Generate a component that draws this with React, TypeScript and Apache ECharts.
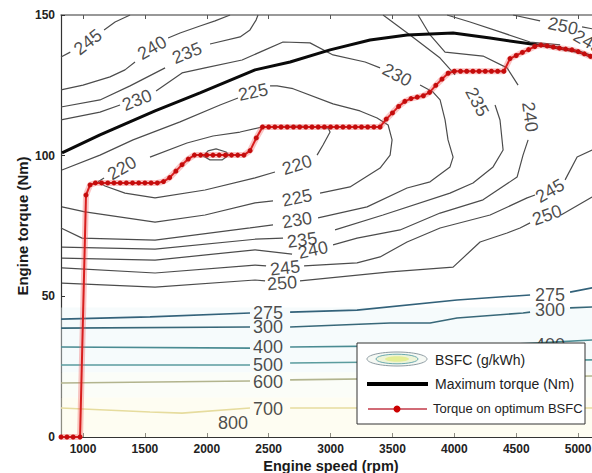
import React, { useEffect, useRef } from "react";
import * as echarts from "echarts";

// ---------- data (engine speed rpm, torque Nm) ----------
const speedTicks = [1000, 1500, 2000, 2500, 3000, 3500, 4000, 4500, 5000];
const torqueTicks = [0, 50, 100, 150];

const maxTorque = [
  [830, 101], [1137, 107.4], [1582, 115.9], [1945, 122.3], [2390, 130.5], [2673, 133.3],
  [2996, 137.6], [3319, 141.1], [3618, 142.9], [3990, 143.6], [4289, 141.8], [4668, 139.4],
  [4750, 139], [5000, 137], [5185, 134],
];

const optimumBsfc = [
  [822, 0], [870, 0], [920, 0], [976, 0], [1024, 86], [1057, 89.6], [1100, 90.3], [1150, 90.3],
  [1200, 90.3], [1250, 90.3], [1300, 90.3], [1350, 90.3], [1400, 90.3], [1450, 90.3], [1500, 90.3],
  [1550, 90.3], [1600, 90.3], [1650, 90.8], [1700, 92.2], [1750, 94.5], [1800, 96.8], [1850, 98.8],
  [1900, 100.2], [1950, 100.2], [2000, 100.2], [2050, 100.2], [2100, 100.2], [2150, 100.2],
  [2200, 100.2], [2250, 100.2], [2300, 100.2], [2350, 101.8], [2400, 106.3], [2450, 110.2],
  [2500, 110.2], [2550, 110.2], [2600, 110.2], [2650, 110.2], [2700, 110.2], [2750, 110.2],
  [2800, 110.2], [2850, 110.2], [2900, 110.2], [2950, 110.2], [3000, 110.2], [3050, 110.2],
  [3100, 110.2], [3150, 110.2], [3200, 110.2], [3250, 110.2], [3300, 110.2], [3350, 110.2],
  [3400, 110.2], [3450, 113], [3500, 115.2], [3550, 117.5], [3600, 119.3], [3650, 120.3],
  [3700, 120.8], [3750, 121.3], [3800, 122.5], [3850, 125], [3900, 127.2], [3950, 129.3],
  [4000, 130], [4050, 130], [4100, 130], [4150, 130], [4200, 130], [4250, 130], [4300, 130],
  [4350, 130], [4400, 130], [4450, 134.5], [4500, 135.6], [4550, 136.7], [4600, 137.7],
  [4650, 138.8], [4700, 139.3], [4750, 139], [4800, 138.6], [4850, 138.2], [4900, 137.9],
  [4950, 137.6], [5000, 137], [5050, 136.2], [5100, 135.3], [5150, 134.5],
];

// BSFC contour lines (g/kWh); null = break where the inline label sits
const c215 = [[1970, 99.9], [2010, 101.7], [2075, 102.4], [2156, 101.3], [2180, 100.2], [2123, 98.5], [2026, 98.5], [1970, 99.9]];
const c220 = [
  [1121, 90.7], [1178, 89.2], [1339, 86.7], [1582, 85], [1986, 87.8], [2390, 92.1], [2551, 94.2], null,
  [2891, 100.2], [2939, 103.8], [2996, 108.4], [2980, 109.8], [2753, 110.5], [2446, 110.2],
  [2269, 108.4], [2050, 107], [1840, 104.5], [1541, 99.5], null, [1170, 92.1], [1121, 90.7],
];
const c225 = [
  [830, 94.9], [1137, 100.2], [1404, 105.6], [1784, 112], [2107, 118], [2252, 120.5], null,
  [2511, 124.8], [2568, 124.8], [2697, 123.8], [3020, 118.4], [3238, 115.9], [3376, 113.4],
  [3465, 110.9], [3497, 105.6], [3481, 100.2], [3400, 95.6], [3157, 88.9], [2915, 86.7], null,
  [2535, 83.9], [2390, 83.2], [1986, 78.9], [1582, 76.4], [1016, 80], [830, 81.8],
];
const c230 = [
  [822, 112.7], [1137, 115.5], [1299, 118], null, [1590, 123], [1800, 129.4], [1986, 131.2],
  [2285, 134], [2471, 137.6], [2616, 140.4], [2834, 140.1], [3020, 135.8], [3279, 133.3],
  [3400, 131.2], null, [3723, 125.1], [3828, 122.6], [3885, 119.8], [3925, 112.7], [3949, 105.6],
  [3990, 99.5], [3965, 96], [3804, 90.7], [3618, 88.5], [3295, 81.8], [2899, 77.9], null,
  [2535, 75.4], [2349, 74.3], [1582, 70], [992, 70.7], [822, 74.3],
];
const c235Left = [
  [822, 117.3], [1137, 119.8], [1380, 124.8], [1663, 131.2], null, [2026, 139.7], [2269, 142.2],
  [2349, 144.7], [2398, 148.2], [2414, 150],
];
const c235Right = [
  [3424, 150], [3642, 142.9], [3885, 134.7], [4006, 128.7], null, [4329, 118], [4369, 112.7],
  [4394, 102], [4313, 96], [4151, 90.3], [3965, 86.7], [3424, 78.9], [3036, 73.6], null,
  [2616, 70.7], [2390, 70.3], [1582, 66.8], [830, 67.5],
];
const c240Left = [
  [822, 123.4], [1000, 125.1], [1218, 128], [1339, 130.5], [1420, 133.3], null, [1687, 141.8],
  [1784, 143.6], [1945, 146.1], [2067, 147.9], [2188, 150],
];
const c240Right = [
  [3707, 150], [3804, 142.9], [3925, 136.8], [4232, 135.4], [4426, 131.2], [4515, 125.1], null,
  [4596, 105.6], [4555, 100.2], [4507, 92.4], [4232, 84.3], [3885, 79.6], [3561, 73.6],
  [3214, 70.7], [3020, 68.3], null, [2689, 65], [2390, 66.5], [1582, 62.9], [830, 63.6],
];
const c245Top = [[822, 135.1], [897, 136.8], null, [1170, 144.7], [1259, 147.5], [1380, 150]];
const c245 = [
  [830, 60.1], [1582, 58.3], [2390, 61.1], [2479, 60.8], null, [2786, 60.8], [3214, 61.9],
  [3400, 64], [3618, 69.3], [3885, 74.3], [4289, 78.9], [4588, 85], [4652, 86], null,
  [4895, 91.4], [4992, 99.5], [5113, 102],
];
const c245UpperRight = [[3941, 150], [4127, 147.5], [4369, 144], [4612, 140.4], [4855, 139.4]];
const c250 = [
  [830, 54.7], [1582, 53.3], [2390, 55.8], [2471, 55.5], null, [2753, 55.5], [3481, 58.7],
  [3990, 60.4], [4208, 69.3], [4426, 72.5], [4531, 74.3], [4612, 76.1], null, [4862, 78.9],
  [5113, 85.3],
];
const c250UpperRight = [[4474, 150], [4693, 147.9], null, [5032, 145.8], [5113, 145.1]];
const c275 = [
  [822, 41.9], [1541, 42.7], [2349, 44.1], null, [2673, 44.4], [3214, 45.1], [4022, 48.7],
  [4612, 50.5], null, [4935, 51.5], [5113, 53],
];
const c300 = [
  [822, 38.7], [2349, 39.1], null, [2673, 39.1], [3481, 40.5], [3804, 40.5], [4022, 42.3],
  [4555, 44.1], [4612, 44.4], null, [4935, 45.9], [5113, 46.2],
];
const c400 = [[822, 32], [2349, 31.6], null, [2673, 32], [3561, 32.4], [4531, 33.1], [5113, 34.5]];
const c500 = [[822, 25.6], [2349, 25.6], null, [2673, 26.3], [5113, 27.4]];
const c600 = [[822, 19.2], [2349, 19.9], null, [2673, 20.3], [5113, 21.7]];
const c700 = [[822, 10.3], [1541, 8.9], [1800, 8.5], [2349, 10.3], null, [2673, 10.3], [5113, 10.3]];

const contours = [
  { level: 215, points: c215 }, { level: 220, points: c220 }, { level: 225, points: c225 },
  { level: 230, points: c230 }, { level: 235, points: c235Left }, { level: 235, points: c235Right },
  { level: 240, points: c240Left }, { level: 240, points: c240Right }, { level: 245, points: c245Top },
  { level: 245, points: c245 }, { level: 245, points: c245UpperRight }, { level: 250, points: c250 },
  { level: 250, points: c250UpperRight }, { level: 275, points: c275 }, { level: 300, points: c300 },
  { level: 400, points: c400 }, { level: 500, points: c500 }, { level: 600, points: c600 },
  { level: 700, points: c700 },
];

// inline contour labels: [text, rpm, Nm, angle]
const contourLabels = [
  ["245", 1040, 140.4, 38], ["240", 1558, 138.3, 30], ["235", 1840, 136.5, 22], ["230", 1436, 119.8, 22],
  ["225", 2374, 122.6, 12], ["220", 1315, 95.6, 30], ["230", 3537, 128.7, -28], ["235", 4184, 119.1, -62],
  ["240", 4612, 113.8, -82], ["220", 2729, 96.7, 18], ["225", 2729, 85, 12], ["230", 2729, 77.1, 10],
  ["235", 2770, 70, 8], ["240", 2858, 66.5, 12], ["245", 2632, 60.1, 6], ["250", 2608, 54.7, 4],
  ["245", 4773, 87.5, 30], ["250", 4749, 78.9, 20], ["250", 4878, 146.1, -12], ["245", 5080, 140.5, -30],
  ["275", 2495, 44.1, 0], ["300", 2495, 39.1, 0], ["400", 2495, 32, 0], ["500", 2495, 25.6, 0],
  ["600", 2495, 19.6, 0], ["700", 2495, 10, 0], ["800", 2212, 5, 0],
  ["275", 4773, 50.5, 0], ["300", 4773, 45.1, 0], ["400", 4773, 32.6, 0],
];

const levelColor: Record<number, string> = {
  215: "#555", 220: "#4c4c4c", 225: "#4c4c4c", 230: "#4c4c4c", 235: "#4c4c4c", 240: "#4c4c4c",
  245: "#4c4c4c", 250: "#4c4c4c", 275: "#33627a", 300: "#386879", 400: "#4a8b92", 500: "#5b9c9e",
  600: "#b2b48e", 700: "#e6dc9e",
};

const FONT = "'Liberation Sans', Arial, Helvetica, sans-serif";

export default function App() {
  const ref = useRef<HTMLDivElement>(null);
  useEffect(() => {
    if (!ref.current) return;
    const chart = echarts.init(ref.current, undefined, { renderer: "svg" });
    const gap = (pts: any[]) => pts.map((p) => (p === null ? ["-", "-"] : p));

    const series: any[] = contours.map((c) => ({
      type: "line",
      data: gap(c.points),
      symbol: "none",
      silent: true,
      connectNulls: false,
      lineStyle: { color: levelColor[c.level], width: c.level > 250 ? 1.6 : 1.2 },
      z: 2,
      ...(c.level === 700
        ? {
            markArea: {
              silent: true,
              z: 1,
              data: [
                [{ yAxis: 0, itemStyle: { color: "rgba(252,250,226,0.45)" } }, { yAxis: 14 }],
                [{ yAxis: 14, itemStyle: { color: "rgba(246,250,238,0.4)" } }, { yAxis: 23 }],
                [{ yAxis: 23, itemStyle: { color: "rgba(232,245,248,0.4)" } }, { yAxis: 46 }],
              ],
            },
          }
        : {}),
    }));

    series.push({
      type: "scatter",
      silent: true,
      symbolSize: 1,
      itemStyle: { color: "transparent" },
      z: 3,
      data: contourLabels.map((l) => ({
        value: [l[1], l[2]],
        label: {
          show: true,
          position: "inside",
          formatter: String(l[0]),
          rotate: l[3] as number,
          fontSize: 18,
          fontFamily: FONT,
          color: "#1c1c1c",
        },
      })),
    });

    series.push({
      type: "line",
      data: maxTorque,
      symbol: "none",
      silent: true,
      lineStyle: { color: "#0a0a0a", width: 3 },
      z: 4,
    });

    // soft halo under the optimum line
    series.push({
      type: "line",
      data: optimumBsfc,
      symbol: "none",
      silent: true,
      lineStyle: { color: "rgba(240,90,90,0.35)", width: 6 },
      z: 5,
    });

    series.push({
      type: "line",
      data: optimumBsfc,
      symbol: "circle",
      symbolSize: 5,
      showAllSymbol: true,
      silent: true,
      itemStyle: { color: "#c40c0c" },
      lineStyle: { color: "#d81e1e", width: 2 },
      z: 6,
    });

    const legendX = 357;
    const legendY = 343;
    const Z = 200;

    chart.setOption({
      animation: false,
      backgroundColor: "#fff",
      grid: {
        left: 61,
        top: 15,
        width: 540,
        height: 422,
        containLabel: false,
        outerBoundsMode: "none",
      },
      xAxis: [
        {
          type: "value",
          min: 822,
          max: 5185,
          position: "bottom",
          name: "Engine speed (rpm)",
          nameLocation: "middle",
          nameMoveOverlap: false,
          nameGap: 21,
          nameTextStyle: { fontFamily: FONT, fontSize: 14.5, fontWeight: "bold", color: "#1a1a1a" },
          axisLine: { show: true, lineStyle: { color: "#333", width: 1.2 } },
          axisTick: { show: true, inside: true, length: 4, customValues: speedTicks, lineStyle: { color: "#333" } },
          axisLabel: {
            customValues: speedTicks,
            formatter: (v: number) => String(v),
            fontFamily: FONT,
            fontSize: 12,
            fontWeight: "bold",
            color: "#222",
            margin: 6,
          },
          splitLine: { show: false },
        },
        {
          type: "value",
          min: 822,
          max: 5185,
          position: "top",
          axisLine: { show: true, lineStyle: { color: "#777", width: 1.5 } },
          axisTick: { show: true, inside: true, length: 4, customValues: speedTicks, lineStyle: { color: "#555" } },
          axisLabel: { show: false },
          splitLine: { show: false },
        },
      ],
      yAxis: {
        type: "value",
        min: torqueTicks[0],
        max: torqueTicks[torqueTicks.length - 1],
        interval: 50,
        name: "Engine torque (Nm)",
        nameLocation: "middle",
        nameRotate: 90,
        nameMoveOverlap: false,
        nameGap: 31,
        nameTextStyle: { fontFamily: FONT, fontSize: 15, fontWeight: "bold", color: "#1a1a1a" },
        axisLine: { show: true, lineStyle: { color: "#333", width: 1.2 } },
        axisTick: { show: true, inside: true, length: 4, lineStyle: { color: "#333" } },
        axisLabel: { fontFamily: FONT, fontSize: 12, fontWeight: "bold", color: "#222", margin: 6 },
        splitLine: { show: false },
      },
      series,
      graphic: [
        {
          type: "rect",
          z: Z,
          shape: { x: legendX, y: legendY, width: 228, height: 81 },
          style: { fill: "#fff", stroke: "#333", lineWidth: 1 },
        },
        {
          type: "ellipse",
          z: Z + 1,
          shape: { cx: legendX + 40, cy: legendY + 16, rx: 30, ry: 7 },
          style: { fill: "#f6f9f4", stroke: "#8d9ba2", lineWidth: 1 },
        },
        {
          type: "ellipse",
          z: Z + 2,
          shape: { cx: legendX + 40, cy: legendY + 16, rx: 21, ry: 4.8 },
          style: { fill: "#eef4d8", stroke: "#6aa9b0", lineWidth: 1 },
        },
        {
          type: "ellipse",
          z: Z + 3,
          shape: { cx: legendX + 40, cy: legendY + 16, rx: 12, ry: 2.8 },
          style: { fill: "#e4ee96" },
        },
        {
          type: "text",
          z: Z + 1,
          x: legendX + 78,
          y: legendY + 17,
          style: { text: "BSFC (g/kWh)", fontSize: 14, fontFamily: FONT, fill: "#222", verticalAlign: "middle" },
        },
        {
          type: "line",
          z: Z + 1,
          shape: { x1: legendX + 10, y1: legendY + 41, x2: legendX + 71, y2: legendY + 41 },
          style: { stroke: "#000", lineWidth: 4 },
        },
        {
          type: "text",
          z: Z + 1,
          x: legendX + 78,
          y: legendY + 41,
          style: { text: "Maximum torque (Nm)", fontSize: 14, fontFamily: FONT, fill: "#222", verticalAlign: "middle" },
        },
        {
          type: "line",
          z: Z + 1,
          shape: { x1: legendX + 11, y1: legendY + 66, x2: legendX + 70, y2: legendY + 66 },
          style: { stroke: "#c23a48", lineWidth: 1.3 },
        },
        {
          type: "circle",
          z: Z + 2,
          shape: { cx: legendX + 40, cy: legendY + 66, r: 3.5 },
          style: { fill: "#c00" },
        },
        {
          type: "text",
          z: Z + 1,
          x: legendX + 76,
          y: legendY + 65,
          style: { text: "Torque on optimum BSFC", fontSize: 13, fontFamily: FONT, fill: "#222", verticalAlign: "middle" },
        },
      ],
    });
    return () => chart.dispose();
  }, []);

  return (
    <div
      ref={ref}
      style={{ position: "absolute", left: 0, top: 0, width: 592, height: 473, background: "#fff" }}
    />
  );
}
